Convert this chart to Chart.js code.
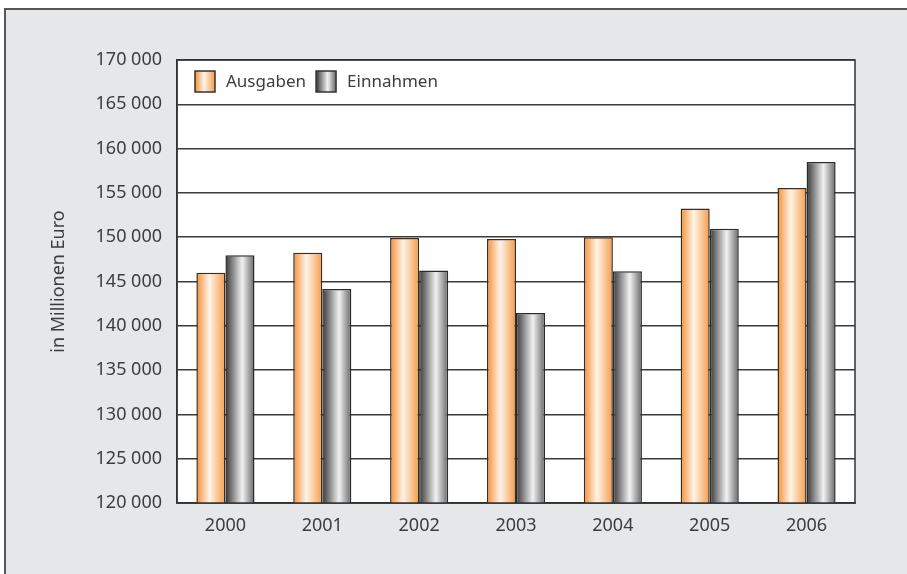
<!DOCTYPE html>
<html>
<head>
<meta charset="utf-8">
<script src="https://cdn.jsdelivr.net/npm/chart.js@4.4.1/dist/chart.umd.min.js"></script>
<style>
  html, body { margin: 0; padding: 0; background: #fff; overflow: hidden; }
  #rahmen {
    position: absolute; left: 4px; top: 8px; width: 1000px; height: 1000px;
    background: #e6e7e9; border-left: 2px solid #575757; border-top: 2px solid #575757;
  }
  #sensorChart { position: absolute; left: 0; top: 0; }
</style>
</head>
<body>
<div id="rahmen"></div>
<canvas id="sensorChart" width="907" height="574"></canvas>
<script>
// Daten (in Millionen Euro)
const jahre = ["2000", "2001", "2002", "2003", "2004", "2005", "2006"];
const ausgaben = [146000, 148250, 149900, 149800, 150000, 153250, 155550];
const einnahmen = [147950, 144150, 146250, 141450, 146150, 150950, 158500];

// y-Achse
const yMin = 120000;
const yMax = 170000;
const yStep = 5000;

const schrift = "'Noto Sans', 'DejaVu Sans', sans-serif";
const textFarbe = "#3d3d3d";
const katProzent = 0.6;

// Farbverlauf pro Balken
const orangeStops = [[0, "#f58e34"], [0.45, "#fff4e8"], [1, "#f59b4a"]];
const grauStops = [[0, "#363636"], [0.58, "#f2f2f2"], [1, "#666666"]];

function verlauf(ctx, left, breite, stops) {
  const g = ctx.createLinearGradient(left, 0, left + breite, 0);
  stops.forEach(s => g.addColorStop(s[0], s[1]));
  return g;
}

function balkenFarbe(stops) {
  return (c) => {
    const chart = c.chart;
    const x = chart.scales.x;
    if (!x || c.type !== "data") return stops[0][1];
    const katBreite = x.width / chart.data.labels.length;
    const barBreite = katBreite * katProzent / 2;
    const mitte = x.getPixelForValue(c.dataIndex);
    const left = mitte - barBreite + c.datasetIndex * barBreite;
    if (!isFinite(left) || !isFinite(barBreite) || barBreite <= 0) return stops[0][1];
    return verlauf(chart.ctx, left, barBreite, stops);
  };
}

function tausender(v) {
  return String(v).replace(/\B(?=(\d{3})+(?!\d))/g, " ");
}

// weisser Hintergrund, Rahmen und Legende im Diagramm
const plotPlugin = {
  id: "plotPlugin",
  beforeDraw(chart) {
    const { ctx, chartArea: a } = chart;
    ctx.save();
    ctx.fillStyle = "#ffffff";
    ctx.fillRect(a.left, a.top, a.right - a.left, a.bottom - a.top);
    ctx.restore();
  },
  afterDraw(chart) {
    const { ctx, chartArea: a } = chart;
    ctx.save();
    ctx.strokeStyle = "#333333";
    ctx.lineWidth = 1.5;
    ctx.strokeRect(a.left, a.top, a.right - a.left, a.bottom - a.top);

    // Legende
    ctx.font = "17px " + schrift;
    ctx.textBaseline = "middle";
    let x = a.left + 18;
    const y = a.top + 11;
    const stopsListe = [orangeStops, grauStops];
    chart.data.datasets.forEach((ds, i) => {
      ctx.fillStyle = verlauf(ctx, x, 20, stopsListe[i]);
      ctx.fillRect(x, y, 20, 21);
      ctx.strokeStyle = "#333333";
      ctx.lineWidth = 1.5;
      ctx.strokeRect(x, y, 20, 21);
      ctx.fillStyle = textFarbe;
      ctx.fillText(ds.label, x + 31, y + 11);
      x += 31 + ctx.measureText(ds.label).width + 10;
    });
    ctx.restore();
  }
};

const ctx = document.getElementById("sensorChart").getContext("2d");

const chart = new Chart(ctx, {
  type: "bar",
  data: {
    labels: jahre,
    datasets: [
      {
        label: "Ausgaben",
        data: ausgaben,
        backgroundColor: balkenFarbe(orangeStops),
        borderColor: "#3b2c22",
        borderWidth: 1.5,
        borderSkipped: "bottom"
      },
      {
        label: "Einnahmen",
        data: einnahmen,
        backgroundColor: balkenFarbe(grauStops),
        borderColor: "#2b2b2b",
        borderWidth: 1.5,
        borderSkipped: "bottom"
      }
    ]
  },
  options: {
    responsive: false,
    animation: false,
    datasets: {
      bar: { categoryPercentage: katProzent, barPercentage: 1.0 }
    },
    layout: {
      padding: { left: 45, top: 60, right: 52, bottom: 0 }
    },
    plugins: {
      legend: { display: false },
      tooltip: { enabled: false }
    },
    scales: {
      x: {
        grid: { display: false, drawTicks: false },
        border: { display: true, color: "#333333", width: 1.5 },
        ticks: {
          color: textFarbe,
          padding: 12,
          font: { family: schrift, size: 18 }
        },
        afterFit(scale) { scale.height = 71; }
      },
      y: {
        min: yMin,
        max: yMax,
        grid: { color: "#3a3a3a", lineWidth: 1.5, drawTicks: false },
        border: { display: true, color: "#333333", width: 1.5 },
        ticks: {
          stepSize: yStep,
          color: textFarbe,
          padding: 15,
          font: { family: schrift, size: 18 },
          callback: (v) => tausender(v)
        },
        title: {
          display: true,
          text: "in Millionen Euro",
          color: textFarbe,
          padding: { top: 3, bottom: 0 },
          font: { family: schrift, size: 18 }
        },
        afterFit(scale) { scale.width = 132; }
      }
    }
  },
  plugins: [plotPlugin]
});
</script>
</body>
</html>
